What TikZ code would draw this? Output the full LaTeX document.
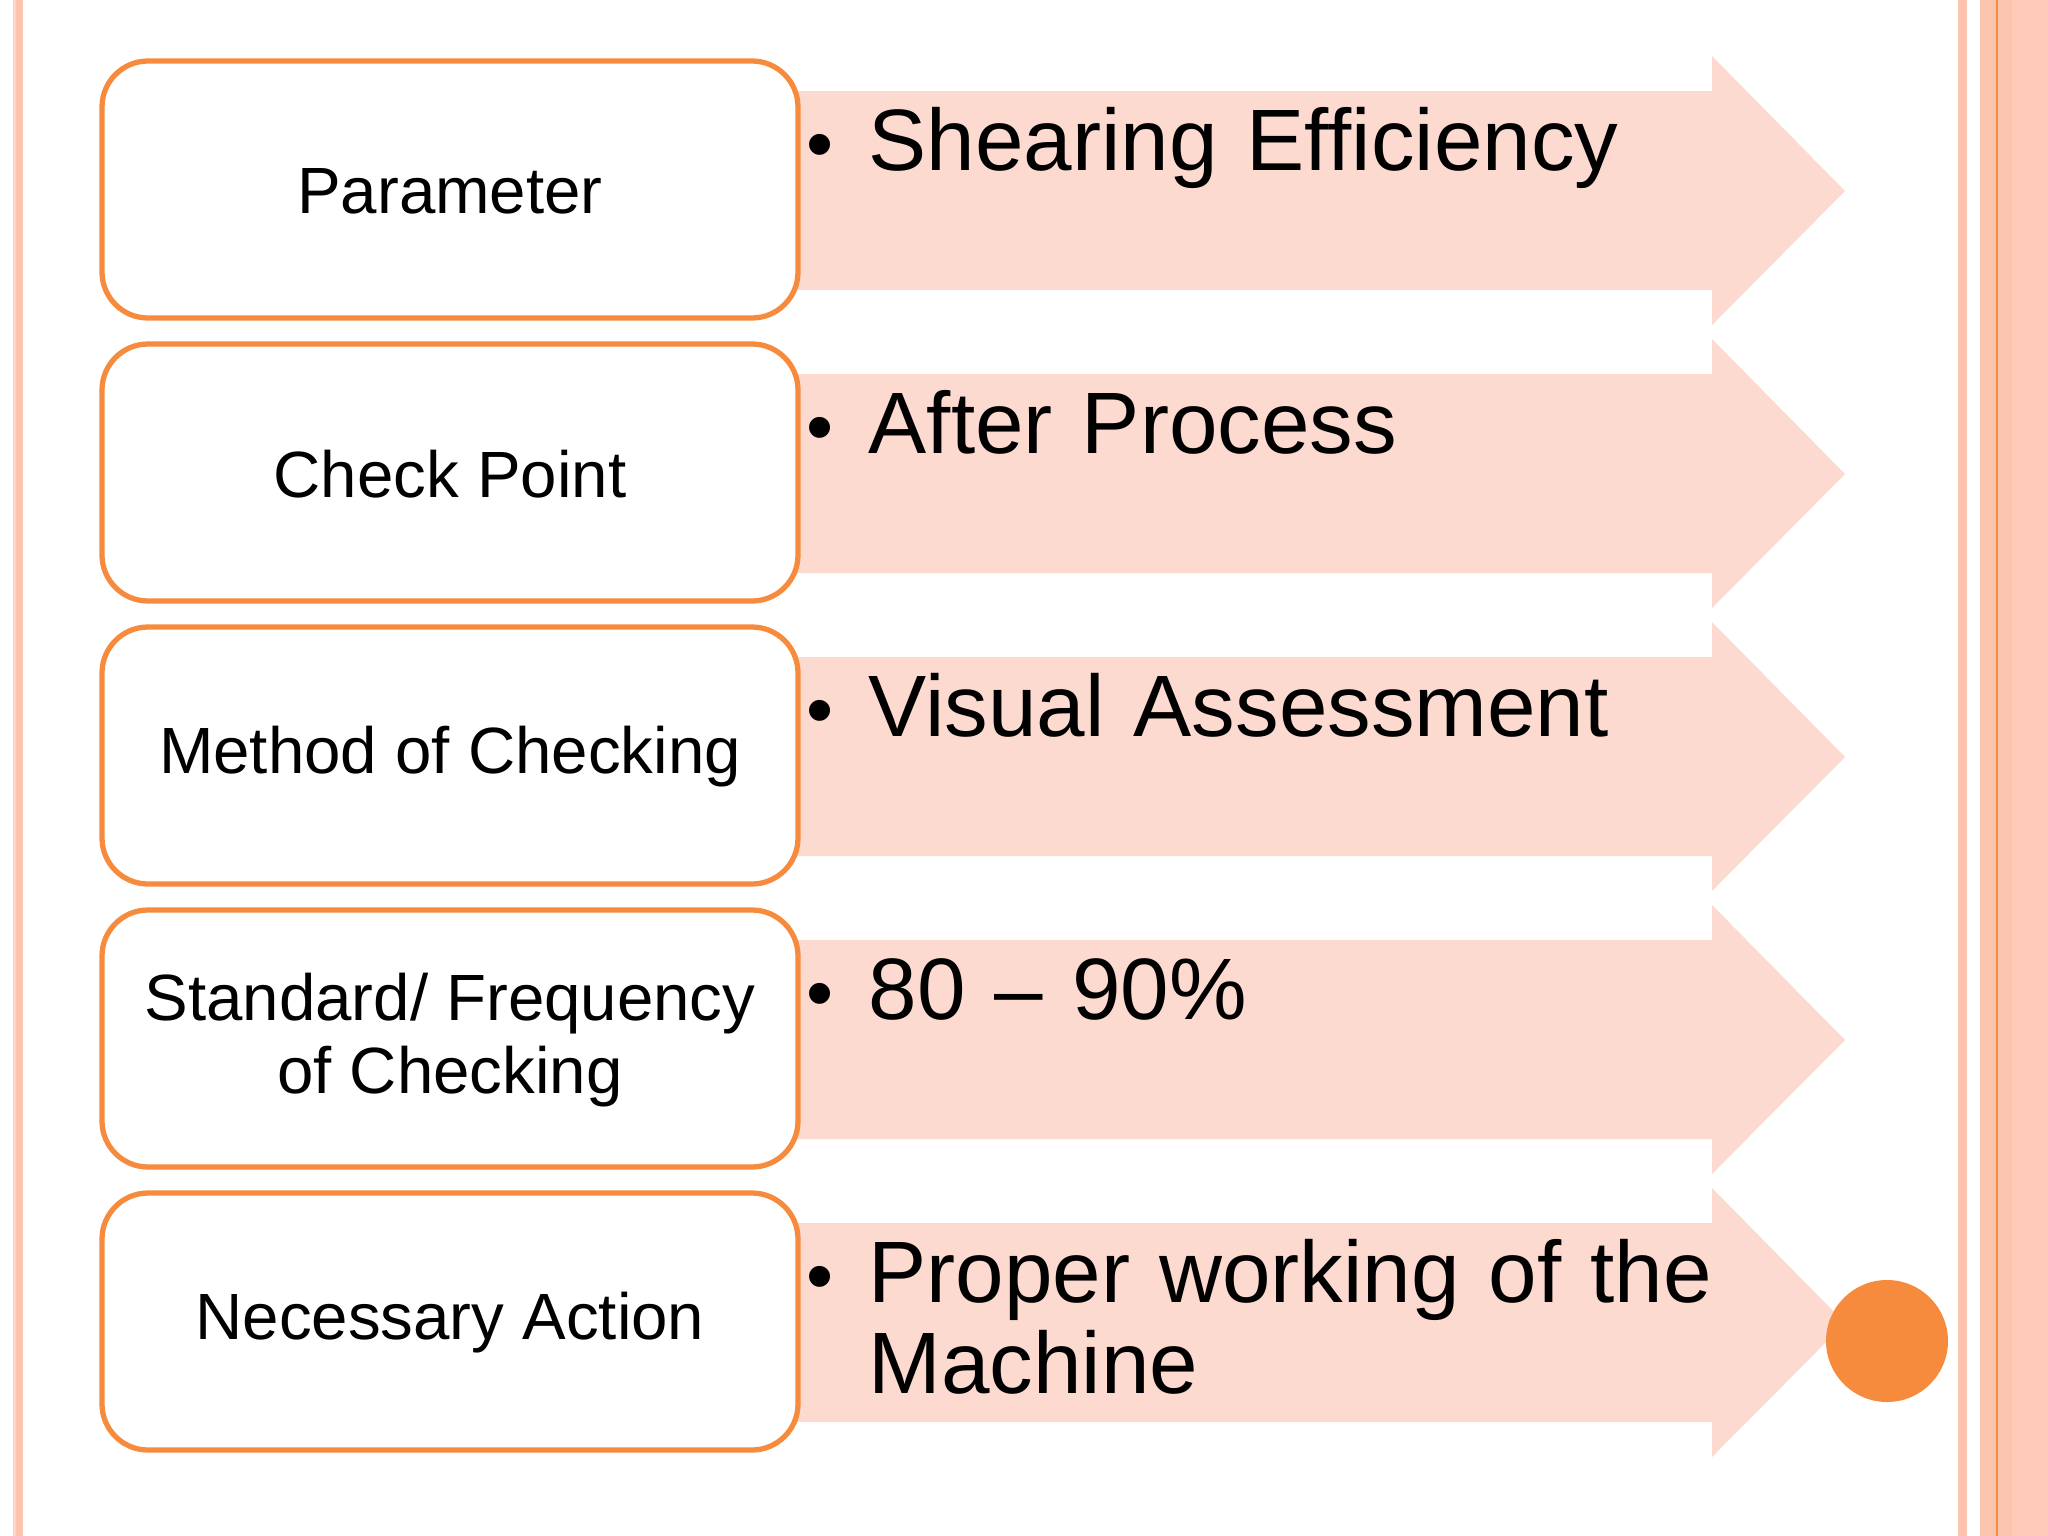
\documentclass[tikz,border=0pt]{standalone}
\usepackage{fontspec}
\setmainfont{Liberation Sans}
\definecolor{boxline}{HTML}{F78B3D}
\definecolor{arrowfill}{HTML}{FDDAD0}
\definecolor{edgepink}{HTML}{FBC4AE}
\definecolor{edgelight}{HTML}{FDCBB8}
\begin{document}
\begin{tikzpicture}[x=0.01cm,y=-0.01cm]

    \tikzset{
        label box/.style={draw=boxline, line width=1.5pt, fill=white, rounded corners=0.46cm},
        item arrow/.style={fill=arrowfill, draw=none},
        left text/.style={align=center, font=\fontsize{18.6}{21}\selectfont},
        right text/.style={anchor=base west, align=left, text width=10cm, inner sep=0,
            font=\fontsize{24.8}{26}\selectfont},
        bullet/.style={anchor=base west, inner sep=0, font=\fontsize{22}{26}\selectfont}
    }

    % page and side bands
    \useasboundingbox (0,0) rectangle (2048,1536);
    \fill[white] (0,0) rectangle (2048,1536);
    \fill[edgepink!70] (13,0) rectangle (16,1536);
    \fill[edgepink] (16,0) rectangle (23,1536);
    \fill[edgepink] (1958,0) rectangle (1967,1536);
    \fill[edgepink] (1980,0) rectangle (2012,1536);
    \fill[edgelight] (2012,0) rectangle (2048,1536);
    \fill[boxline] (1996,0) rectangle (1998,1536);

    % rows
    \foreach \i/\left/\right in {
        0/{Parameter}/{Shearing Efficiency},
        1/{Check Point}/{After Process},
        2/{Method of Checking}/{Visual Assessment},
        3/{Standard/ Frequency\\of Checking}/{80 -- 90\%},
        4/{Necessary Action}/{Proper working of the\\Machine}} {
        \pgfmathsetmacro{\t}{61+283*\i}
        \fill[item arrow] (780,\t+30) -- (1712,\t+30) -- (1712,\t-5) -- (1845,\t+130)
            -- (1712,\t+264) -- (1712,\t+229) -- (780,\t+229) -- cycle;
        \draw[label box] (102,\t) rectangle (798,\t+257);
        \node[left text] (param\i) at (450,\t+130) {\left};
        \node[bullet] (dot\i) at (806,\t+109) {•};
        \node[right text] (value\i) at (868,\t+109) {\right};
    }

    \fill[boxline] (1887,1341) circle (61);

\end{tikzpicture}
\end{document}
